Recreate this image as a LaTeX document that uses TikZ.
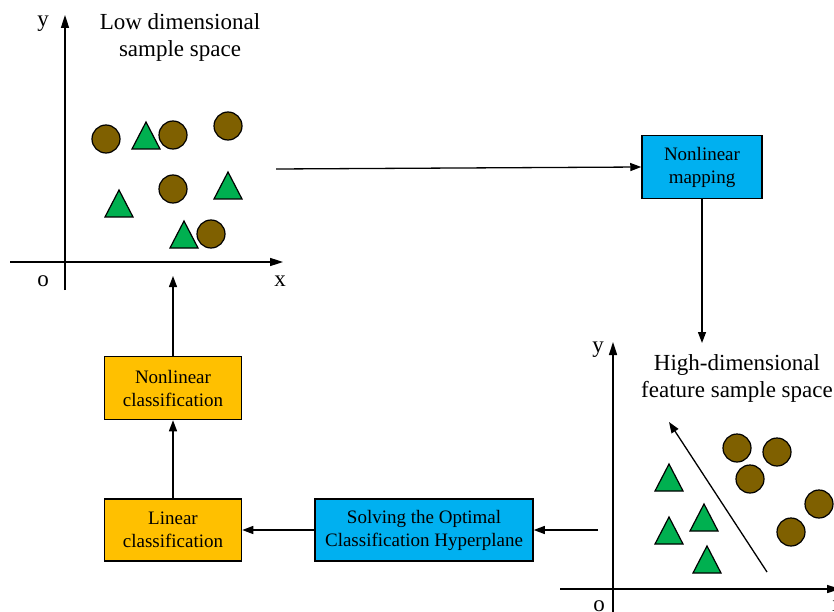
\documentclass[tikz,border=0pt]{standalone}
\usepackage{fontspec}
\setmainfont{Liberation Serif}
\usetikzlibrary{arrows.meta}
\definecolor{ballbrown}{HTML}{7F6000}
\definecolor{trigreen}{HTML}{00B050}
\definecolor{boxcyan}{HTML}{00B0F0}
\definecolor{boxgold}{HTML}{FFC000}
\begin{document}
\begin{tikzpicture}[x=1pt,y=-1pt,
    font=\fontsize{19}{23}\selectfont,
    box/.style={draw, line width=1.5pt, align=center, inner sep=0pt},
    arr/.style={-{Triangle[length=11pt,width=8pt]}, line width=1.3pt},
    axis/.style={-{Triangle[length=13pt,width=8pt]}, line width=1.6pt},
    lbl/.style={font=\fontsize{23}{27}\selectfont, align=center},
    ball/.style={draw, fill=ballbrown, line width=1.2pt},
    tri/.style={draw, fill=trigreen, line width=1.2pt, line join=miter}]
    \useasboundingbox (0,0) rectangle (834,612);
    \clip (0,0) rectangle (834,612);
            \draw[axis] (10,262)--(283,262);
            \draw[axis] (65,290)--(65,15);
            \node[lbl] (ly) at (43,24) {y};
            \node[lbl] (lo) at (43,281) {o};
            \node[lbl] (lx) at (280,281) {x};
            \node[lbl] (lowtitle) at (180,37) {Low dimensional\\sample space};
            \foreach \x/\y in {106/139,173/135,228/126,173/189,211/234}
                \draw[ball] (\x,\y) circle (14pt);
            \foreach \x/\y in {146/122,119/190,228/172,184/221}
                \draw[tri] (\x,\y)--++(14,27)--++(-28,0)--cycle;
            \draw[axis] (560,589)--(840,589);
            \draw[axis] (613,620)--(613,342);
            \node[lbl] (hy) at (598,350) {y};
            \node[lbl] (ho) at (599,606) {o};
            \node[lbl] (hx) at (838,606) {x};
            \node[lbl] (hightitle) at (737,378) {High-dimensional\\feature sample space};
            \foreach \x/\y in {737/448,777/452,750/479,819/504,791/532}
                \draw[ball] (\x,\y) circle (14pt);
            \foreach \x/\y in {669/464,669/517,704/504,707/546}
                \draw[tri] (\x,\y)--++(14,27)--++(-28,0)--cycle;
            \coordinate (sepend) at (767,572);
            \coordinate (sephead) at (669,422);
            \draw[arr] (sepend)--(sephead);
            \node[box, fill=boxcyan, minimum width=120pt, minimum height=63pt] (map) at (702,167) {Nonlinear\\mapping};
            \node[box, fill=boxcyan, minimum width=218pt, minimum height=62pt] (solve) at (424,530) {Solving the Optimal\\Classification Hyperplane};
            \node[box, fill=boxgold, minimum width=137pt, minimum height=62pt] (lin) at (173,530) {Linear\\classification};
            \node[box, fill=boxgold, minimum width=137pt, minimum height=63pt] (nonlin) at (173,388) {Nonlinear\\classification};
            \coordinate (lowout) at (276,169);
            \coordinate (lowin) at (173,276);
            \coordinate (highin) at (702,343);
            \coordinate (highout) at (598,530);
            \draw[arr] (lowout)--(map.west);
            \draw[arr] (map.south)--(highin);
            \draw[arr] (highout)--(solve.east);
            \draw[arr] (solve.west)--(lin.east);
            \draw[arr] (lin.north)--(nonlin.south);
            \draw[arr] (nonlin.north)--(lowin);
        \end{tikzpicture}
\end{document}
